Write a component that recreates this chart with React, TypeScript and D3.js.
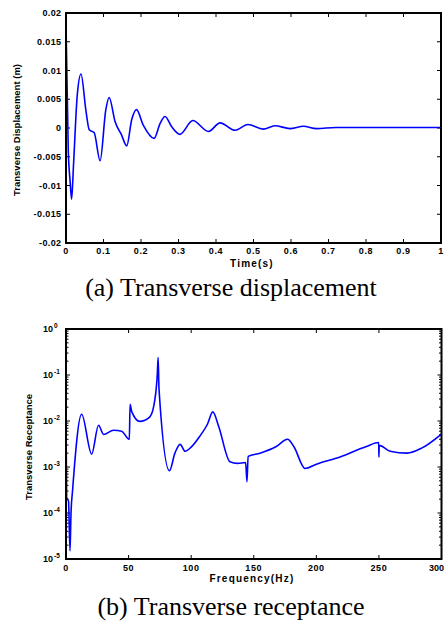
import React from 'react'
import * as d3 from 'd3'

// (a) time response
const timeS = [0, 0.006, 0.011, 0.015, 0.02, 0.03, 0.04, 0.053, 0.062, 0.075, 0.091, 0.106, 0.115, 0.131, 0.148, 0.162, 0.175, 0.188, 0.206, 0.235, 0.251, 0.264, 0.282, 0.304, 0.338, 0.38, 0.411, 0.451, 0.485, 0.526, 0.557, 0.597, 0.633, 0.668, 0.72, 0.8, 0.9, 1.0]
const dispM = [0.018, -0.0038, -0.0093, -0.0124, -0.0065, 0.0057, 0.0094, 0.0031, -0.0003, -0.0008, -0.0057, 0.0031, 0.0053, 0.0011, -0.0012, -0.0031, 0.0014, 0.0032, 0.0005, -0.0018, 0.0008, 0.002, 0.0002, -0.0011, 0.0013, -0.0006, 0.0009, -0.0004, 0.0006, -0.0002, 0.0004, -0.0001, 0.0003, -0.0001, 0.0001, 0.0001, 0.0001, 0.0001]
const timeTicks = [0, 0.1, 0.2, 0.3, 0.4, 0.5, 0.6, 0.7, 0.8, 0.9, 1]
const dispTicks = [0.02, 0.015, 0.01, 0.005, 0, -0.005, -0.01, -0.015, -0.02]

// (b) receptance
const freqHz = [0, 0.5, 2, 3.2, 4, 5.3, 12.5, 20.5, 26, 30, 38, 44.5, 49.3, 50.6, 51.2, 52.5, 59, 67, 71, 73, 73.6, 74.3, 82.7, 87, 91.2, 95.2, 100, 107, 113, 117.3, 122, 131, 137, 143.5, 144.6, 145.5, 155, 168, 177, 182, 191, 200, 219, 240, 249.8, 250, 250.2, 259, 272.5, 284.5, 300]
const receptance = [0.0115, 2.2e-4, 1.8e-4, 1.5e-5, 1e-4, 3.2e-4, 0.014, 1.9e-3, 8.1e-3, 5.1e-3, 6.3e-3, 6e-3, 4.2e-3, 4e-3, 0.023, 0.016, 9.8e-3, 0.0123, 0.029, 0.11, 0.24, 0.05, 8.3e-4, 2e-3, 3.1e-3, 2.2e-3, 2.7e-3, 4.7e-3, 8.5e-3, 0.0158, 7.6e-3, 1.3e-3, 1.2e-3, 1.25e-3, 4.8e-4, 1.7e-3, 2e-3, 2.8e-3, 4e-3, 2.8e-3, 9.3e-4, 1.15e-3, 1.65e-3, 2.8e-3, 3.4e-3, 1.65e-3, 2.95e-3, 2.2e-3, 2e-3, 2.6e-3, 5.2e-3]
const freqTicks = [0, 50, 100, 150, 200, 250, 300]
const decadeExps = [0, -1, -2, -3, -4, -5]

const sans = 'Liberation Sans, Arial, sans-serif'
const serif = 'Liberation Serif, Times New Roman, serif'
const blue = '#0000ff'

const App = () => {
  // top panel
  const x1 = d3.scaleLinear().domain([0, 1]).range([66, 441])
  const y1 = d3.scaleLinear().domain([-0.02, 0.02]).range([243, 13])
  const line1 = d3.line<number>()
    .x((d, i) => x1(timeS[i]))
    .y(d => y1(d))
    .curve(d3.curveMonotoneX)

  // bottom panel
  const x2 = d3.scaleLinear().domain([0, 300]).range([66, 441.5])
  const y2 = d3.scaleLog().domain([1e-5, 1]).range([559, 329])
  const line2 = d3.line<number>()
    .x((d, i) => x2(freqHz[i]))
    .y(d => y2(d))
    .curve(d3.curveMonotoneX)

  const minor: number[] = []
  decadeExps.slice(1).forEach(e => {
    for (let k = 2; k < 10; k++) minor.push(k * Math.pow(10, e))
  })

  const tk = 4
  const mk = 2.5

  return (
    <svg width={445} height={623} style={{ position: 'absolute', left: 0, top: 0, background: '#fff' }}>
      {/* ---------- (a) ---------- */}
      <g>
        {timeTicks.map(t => (
          <g key={'xt' + t}>
            <line x1={x1(t)} x2={x1(t)} y1={243} y2={243 - tk} stroke="#000" />
            <line x1={x1(t)} x2={x1(t)} y1={13} y2={13 + tk} stroke="#000" />
            <text x={x1(t)} y={254} textAnchor="middle" fontFamily={sans} fontWeight="bold" fontSize={9} letterSpacing={0.6}>{String(t)}</text>
          </g>
        ))}
        {dispTicks.map(v => (
          <g key={'yt' + v}>
            <line x1={66} x2={66 + tk} y1={y1(v)} y2={y1(v)} stroke="#000" />
            <line x1={441} x2={441 - tk} y1={y1(v)} y2={y1(v)} stroke="#000" />
            <text x={61.5} y={y1(v) + 3} textAnchor="end" fontFamily={sans} fontWeight="bold" fontSize={9} letterSpacing={0.4}>{String(v)}</text>
          </g>
        ))}
        <path d={line1(dispM) || ''} fill="none" stroke={blue} strokeWidth={1.6} />
        <rect x={66} y={13} width={375} height={230} fill="none" stroke="#000" strokeWidth={2} />
        <text x={252} y={266.5} textAnchor="middle" fontFamily={sans} fontWeight="bold" fontSize={10} letterSpacing={1.2}>Time(s)</text>
        <text transform="translate(20,130) rotate(-90)" textAnchor="middle" fontFamily={sans} fontWeight="bold" fontSize={9.5}>Transverse Displacement (m)</text>
        <text x={231} y={296} textAnchor="middle" fontFamily={serif} fontSize={26}>(a) Transverse displacement</text>
      </g>

      {/* ---------- (b) ---------- */}
      <g>
        {freqTicks.map((f, i) => {
          const last = i === freqTicks.length - 1
          return (
            <g key={'ft' + f}>
              <line x1={x2(f)} x2={x2(f)} y1={559} y2={559 - tk} stroke="#000" />
              <line x1={x2(f)} x2={x2(f)} y1={329} y2={329 + tk} stroke="#000" />
              <text x={last ? 444 : x2(f)} y={570.5} textAnchor={last ? 'end' : 'middle'} fontFamily={sans} fontWeight="bold" fontSize={9} letterSpacing={last ? 0 : 0.6}>{String(f)}</text>
            </g>
          )
        })}
        {decadeExps.map(e => {
          const yy = y2(Math.pow(10, e))
          return (
            <g key={'dt' + e}>
              <line x1={66} x2={66 + tk} y1={yy} y2={yy} stroke="#000" />
              <line x1={441.5} x2={441.5 - tk} y1={yy} y2={yy} stroke="#000" />
              <text x={53} y={yy + 3} textAnchor="end" fontFamily={sans} fontWeight="bold" fontSize={9}>10</text>
              <text x={54} y={yy - 1.5} textAnchor="start" fontFamily={sans} fontWeight="bold" fontSize={6.5}>{String(e)}</text>
            </g>
          )
        })}
        {minor.map((m, i) => (
          <g key={'mt' + i}>
            <line x1={66} x2={66 + mk} y1={y2(m)} y2={y2(m)} stroke="#000" />
            <line x1={441.5} x2={441.5 - mk} y1={y2(m)} y2={y2(m)} stroke="#000" />
          </g>
        ))}
        <path d={line2(receptance) || ''} fill="none" stroke={blue} strokeWidth={1.6} />
        <rect x={66} y={329} width={375.5} height={230} fill="none" stroke="#000" strokeWidth={2} />
        <text x={252} y={581.5} textAnchor="middle" fontFamily={sans} fontWeight="bold" fontSize={10} letterSpacing={1.2}>Frequency(Hz)</text>
        <text transform="translate(31.5,447) rotate(-90)" textAnchor="middle" fontFamily={sans} fontWeight="bold" fontSize={9.5}>Transverse Receptance</text>
        <text x={231} y={615} textAnchor="middle" fontFamily={serif} fontSize={26}>(b) Transverse receptance</text>
      </g>
    </svg>
  )
}

export default App
